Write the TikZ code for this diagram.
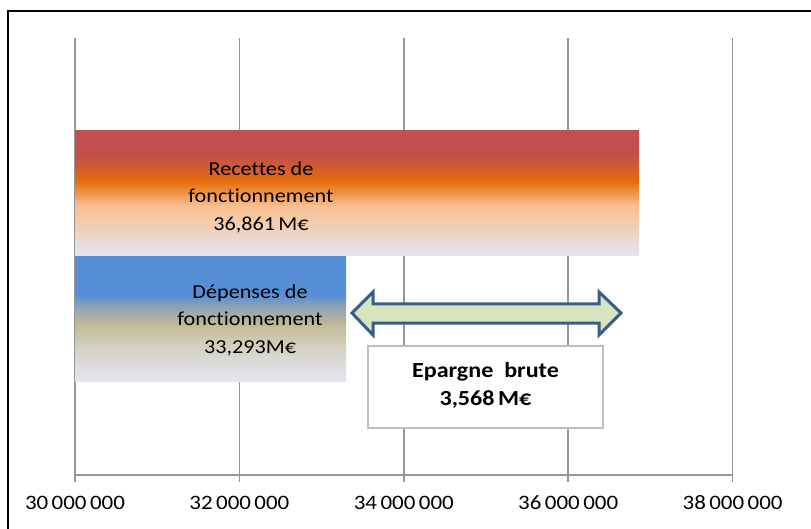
\documentclass[tikz,border=0pt]{standalone}
\usepackage{fontspec}
\setmainfont{Carlito}[FakeStretch=1.12, Ligatures=NoCommon]
\definecolor{rLight}{RGB}{226,230,242}
\definecolor{rPeach2}{RGB}{240,208,185}
\definecolor{rPeach}{RGB}{249,192,145}
\definecolor{rOrange}{RGB}{228,108,10}
\definecolor{rMid}{RGB}{208,90,52}
\definecolor{rRed}{RGB}{192,80,77}
\definecolor{dLight}{RGB}{228,230,240}
\definecolor{dGrey}{RGB}{212,210,196}
\definecolor{dKhaki}{RGB}{196,189,151}
\definecolor{dMix}{RGB}{150,165,175}
\definecolor{dBlue}{RGB}{85,142,213}
\definecolor{gridgray}{RGB}{150,150,150}
\definecolor{arrowfill}{RGB}{215,228,189}
\definecolor{arrowdraw}{RGB}{56,93,138}
\definecolor{boxgray}{RGB}{190,190,190}
\pgfdeclareverticalshading{recshade}{100bp}{color(0bp)=(rLight); color(25bp)=(rLight); color(36bp)=(rPeach2); color(45bp)=(rPeach); color(55bp)=(rOrange); color(61bp)=(rMid); color(66bp)=(rRed); color(100bp)=(rRed)}
\pgfdeclareverticalshading{depshade}{100bp}{color(0bp)=(dLight); color(25bp)=(dLight); color(38bp)=(dGrey); color(47bp)=(dKhaki); color(54bp)=(dMix); color(60bp)=(dBlue); color(100bp)=(dBlue)}
\tikzset{
  grid line/.style={draw=gridgray, line width=1.5pt},
  axis label/.style={font=\fontsize{20.5}{24}\selectfont, anchor=center, inner sep=0pt},
  bar label/.style={font=\fontsize{19.8}{27.5}\selectfont, align=center, inner sep=0pt},
}
\begin{document}
\begin{tikzpicture}[x=1pt,y=-1pt]
\useasboundingbox (0,0) rectangle (811,529);
\fill[white] (0,0) rectangle (811,529);
% frame
\draw[line width=2.5pt, black] (8,529) -- (8,11) -- (811,11);
% grid lines and ticks
\foreach \i/\v in {0/30,1/32,2/34,3/36,4/38}{
  \pgfmathsetmacro{\gx}{75+164.4*\i}
  \draw[grid line] (\gx,38) -- (\gx,482);
  \node[axis label] (lab\v) at (\gx,503) {\v\,000\,000};
}
\draw[grid line] (75,475) -- (733,475);
% bars
\shade[shading=recshade] (75,131) rectangle (639,256);
\shade[shading=depshade] (75,257) rectangle (346,381);
\node[bar label] (rec) at (261,197) {Recettes de\\fonctionnement\\36,861\,M€};
\node[bar label] (dep) at (250,320) {Dépenses de\\fonctionnement\\33,293M€};
% double arrow
\filldraw[fill=arrowfill, draw=arrowdraw, line width=3pt, line join=miter]
  (352,313) -- (373,292) -- (373,304) -- (599,304) -- (599,292) -- (621,313)
  -- (599,335) -- (599,323) -- (373,323) -- (373,335) -- cycle;
% box
\node[draw=boxgray, line width=1.5pt, fill=white, minimum width=235pt, minimum height=82pt,
      inner sep=0pt] (box) at (485.5,387) {};
\node[font=\bfseries\fontsize{21.5}{28}\selectfont, align=center, inner sep=0pt]
  (ep) at (485.5,385) {Epargne\ \ brute\\3,568\,M€};
\end{tikzpicture}
\end{document}
